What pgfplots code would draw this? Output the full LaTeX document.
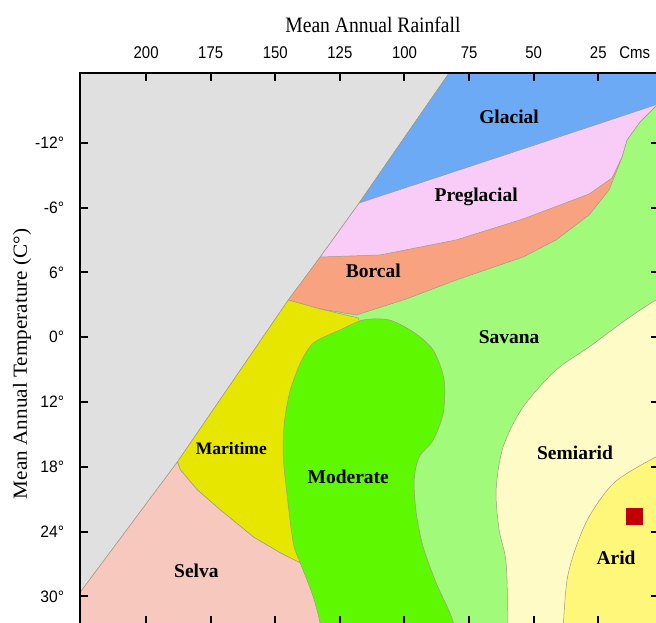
\documentclass[border=0pt]{standalone}
\usepackage{pgfplots}
\pgfplotsset{compat=1.18}
\usepackage{fontspec}
\setmainfont{Liberation Serif}
\newfontfamily\titlefont{Liberation Serif}[FakeStretch=0.89]
\newfontfamily\ylabfont{Liberation Serif}[FakeStretch=1.06]
\newfontfamily\xtickfont{Liberation Sans}[FakeStretch=0.88]
\newfontfamily\ytickfont{Liberation Sans}[FakeStretch=0.95]
\definecolor{bggray}{HTML}{E0E0E0}
\definecolor{glacial}{HTML}{6CAAF6}
\definecolor{preglacial}{HTML}{F8CCF6}
\definecolor{boreal}{HTML}{F9A27F}
\definecolor{savana}{HTML}{A2FA7A}
\definecolor{moderate}{HTML}{5EF800}
\definecolor{maritime}{HTML}{E6E600}
\definecolor{selva}{HTML}{F7C8BE}
\definecolor{semiarid}{HTML}{FFFBC6}
\definecolor{arid}{HTML}{FFF77A}
\definecolor{edgec}{HTML}{A09A86}
\definecolor{redsq}{HTML}{C00000}
\tikzset{region/.style={draw=edgec, line width=0.5pt}}
\begin{document}
\begin{tikzpicture}
\begin{scope}
\clip (0,0) rectangle (656pt,622pt);
\begin{axis}[
  at={(80.5pt,-2pt)}, anchor=south west,
  scale only axis, width=578.5pt, height=551pt,
  x dir=reverse, y dir=reverse,
  xmin=1.5, xmax=225.4, ymin=-18.45, ymax=32.55,
  axis background/.style={fill=bggray},
  axis on top,
  axis line style={black, line width=2pt},
  tick style={black, line width=2pt},
  major tick length=8pt,
  tick align=inside,
  xtick={25,50,75,100,125,150,175,200},
  xticklabels={25\rlap{\hspace{0.75em}Cms},50,75,100,125,150,175,200},
  ytick={-12,-6,0,6,12,18,24,30},
  yticklabels={-12°,-6°,6°,0°,12°,18°,24°,30°},
  xticklabel pos=upper,
  xticklabel style={font=\xtickfont\fontsize{17}{20}\selectfont, yshift=11.3pt},
  yticklabel style={font=\ytickfont\fontsize{16.5}{19}\selectfont, xshift=-12.8pt},
  xlabel={Mean Annual Rainfall},
  xlabel style={font=\titlefont\fontsize{22}{26}\selectfont, at={(axis description cs:0.5056,1)}, anchor=base, yshift=41pt},
  ylabel={Mean Annual Temperature (C°)},
  ylabel style={font=\ylabfont\fontsize{20}{24}\selectfont, at={(axis description cs:-0.1011,0.472)}, anchor=center},
]
% Savana (everything right of the diagonal)
\addplot[region, fill=savana] coordinates {(79.23,-19.65) (117.51,-6.42) (132.60,-1.42) (144.97,2.56) (187.89,17.55) (225.40,29.58) (237.00,33.47) (-2.75,33.47) (-2.75,-19.65)} -- cycle;
% Boreal
\addplot[region, fill=boreal] coordinates {(79.23,-19.65) (117.51,-6.42) (132.60,-1.42) (144.97,2.56) (132.60,3.39) (118.67,3.95) (99.34,2.47) (80.00,0.71) (54.10,-1.42) (41.33,-3.00) (28.57,-5.31) (20.84,-7.62) (16.97,-9.94) (15.81,-10.68) (13.88,-12.25) (8.85,-13.92) (2.66,-15.40) (-2.75,-15.95) (-2.75,-19.65)} -- cycle;
% Preglacial
\addplot[region, fill=preglacial] coordinates {(79.23,-19.65) (117.51,-6.42) (132.60,-1.42) (109.39,-1.61) (80.00,-3.00) (54.10,-4.94) (28.57,-7.25) (19.68,-8.73) (15.81,-10.68) (13.88,-12.25) (8.85,-13.92) (2.66,-15.40) (-2.75,-15.95) (-2.75,-19.65)} -- cycle;
% Glacial
\addplot[region, fill=glacial] coordinates {(79.23,-19.65) (117.51,-6.42) (80.00,-9.38) (41.33,-12.44) (5.37,-15.30) (-2.75,-15.95) (-2.75,-19.65)} -- cycle;
% Semiarid
\addplot[region, fill=semiarid, smooth, tension=0.5] coordinates {(-2.75,2.37) (2.66,2.56) (15.43,4.59) (28.57,6.91) (41.33,9.04) (54.10,12.46) (61.83,16.16) (64.54,20.14) (63.38,23.84) (60.67,26.90) (59.90,33.10) (59.90,36) (-2.75,36)} -- cycle;
% Arid
\addplot[region, fill=arid, smooth, tension=0.5] coordinates {(-2.75,16.90) (2.66,17.09) (18.52,19.40) (28.19,22.46) (33.60,25.42) (37.08,28.47) (38.63,33.10) (38.63,36) (-2.75,36)} -- cycle;
% Maritime
\addplot[region, fill=maritime] coordinates {(144.97,2.56) (187.89,17.55) (186.73,18.29) (180.16,20.14) (171.27,21.99) (158.50,24.49) (148.06,25.97) (140.33,26.90) (117.13,26.62) (113.26,8.11) (117.90,4.22) (132.60,3.39)} -- cycle;
% Selva
\addplot[region, fill=selva] coordinates {(187.89,17.55) (225.40,29.58) (237.00,33.47) (124.86,33.47) (124.86,28.47) (140.33,26.90) (148.06,25.97) (158.50,24.49) (171.27,21.99) (180.16,20.14) (186.73,18.29)} -- cycle;
% Moderate
\addplot[region, fill=moderate, smooth, tension=0.5] coordinates {(140.33,8.39) (135.30,6.54) (124.86,5.33) (115.97,4.41) (105.91,4.41) (96.63,5.52) (88.90,7.19) (84.65,9.96) (85.03,13.02) (88.90,15.52) (94.31,17.09) (96.25,19.22) (95.47,22.27) (92.77,25.42) (87.74,28.75) (81.17,32.36) (79.50,36) (132.21,36) (132.21,33.10) (135.30,30.05) (140.33,26.90) (143.04,25.05) (145.36,20.79) (146.90,17.09) (146.52,13.94) (144.20,10.89) (140.33,8.39)} -- cycle;
% red marker
\addplot[only marks, mark=square*, mark size=8pt, mark options={draw=redsq, fill=redsq}] coordinates {(11.17,22.55)};
% region names
\begin{scope}[every node/.style={font=\bfseries\fontsize{19.5}{22}\selectfont, text=black}]
\node at (axis cs:59.51,-14.38) {Glacial};
\node at (axis cs:72.27,-6.98) {Preglacial};
\node at (axis cs:112.10,-0.13) {Borcal};
\node at (axis cs:59.51,5.98) {Savana};
\node[font=\bfseries\fontsize{17.5}{20}\selectfont] at (axis cs:167.01,16.35) {Maritime};
\node at (axis cs:121.77,18.94) {Moderate};
\node at (axis cs:33.99,16.72) {Semiarid};
\node at (axis cs:18.13,26.44) {Arid};
\node at (axis cs:180.55,27.64) {Selva};
\end{scope}
\end{axis}
\end{scope}
\pgfresetboundingbox
\useasboundingbox (0,0) rectangle (656pt,622pt);
\end{tikzpicture}
\end{document}
